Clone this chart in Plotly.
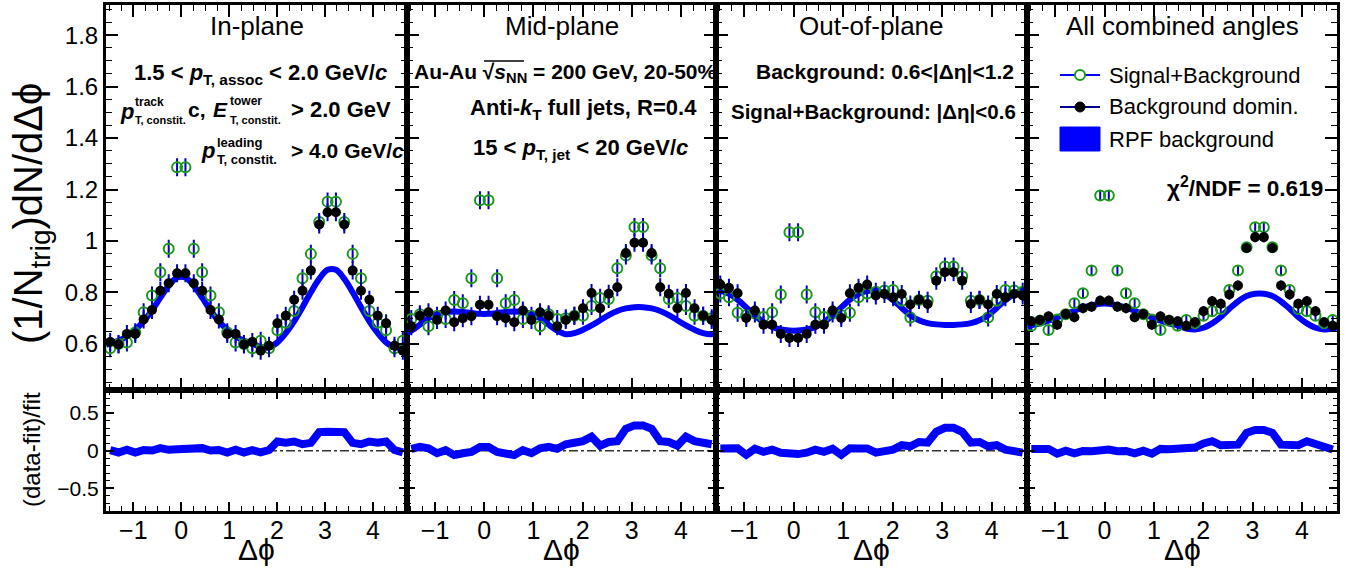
import numpy as np
import plotly.graph_objects as go

W, H = 1354, 569

# ---------------- data ----------------
NBINS = 36
phi_lo, phi_hi = -np.pi / 2, 3 * np.pi / 2
phi = phi_lo + (np.arange(NBINS) + 0.5) * (phi_hi - phi_lo) / NBINS

panel_titles = ["In-plane", "Mid-plane", "Out-of-plane", "All combined angles"]

# Signal+Background (|Δη|<0.6), green open circles
sigbkg_in = [0.583, 0.600, 0.606, 0.645, 0.723, 0.788, 0.879, 0.970, 1.287, 1.287, 0.970, 0.879, 0.788, 0.723, 0.645, 0.606, 0.600, 0.583,
             0.612, 0.583, 0.653, 0.682, 0.728, 0.855, 0.950, 1.074, 1.153, 1.153, 1.074, 0.950, 0.855, 0.728, 0.682, 0.653, 0.583, 0.612]
sigbkg_mid = [0.697, 0.715, 0.669, 0.710, 0.697, 0.771, 0.758, 0.855, 1.158, 1.158, 0.855, 0.758, 0.771, 0.697, 0.710, 0.669, 0.715, 0.697,
              0.700, 0.710, 0.710, 0.747, 0.779, 0.775, 0.894, 0.944, 1.054, 1.054, 0.944, 0.894, 0.775, 0.779, 0.747, 0.710, 0.710, 0.700]
sigbkg_out = [0.796, 0.781, 0.721, 0.712, 0.718, 0.705, 0.723, 0.792, 1.034, 1.034, 0.792, 0.723, 0.705, 0.718, 0.712, 0.721, 0.781, 0.796,
              0.803, 0.808, 0.810, 0.768, 0.703, 0.771, 0.768, 0.863, 0.901, 0.901, 0.863, 0.768, 0.771, 0.703, 0.768, 0.810, 0.808, 0.803]
sigbkg_all = [0.671, 0.690, 0.654, 0.695, 0.715, 0.758, 0.797, 0.885, 1.177, 1.177, 0.885, 0.797, 0.758, 0.715, 0.695, 0.654, 0.690, 0.671,
              0.693, 0.680, 0.710, 0.727, 0.736, 0.810, 0.885, 0.976, 1.053, 1.053, 0.976, 0.885, 0.810, 0.736, 0.727, 0.710, 0.680, 0.693]

# Background dominated (0.6<|Δη|<1.2), black filled circles
bkgdom_in = [0.608, 0.598, 0.639, 0.639, 0.695, 0.732, 0.807, 0.836, 0.875, 0.875, 0.836, 0.807, 0.732, 0.695, 0.639, 0.639, 0.598, 0.608,
             0.574, 0.593, 0.680, 0.710, 0.772, 0.807, 0.885, 1.064, 1.112, 1.112, 1.064, 0.885, 0.807, 0.772, 0.710, 0.680, 0.593, 0.574]
bkgdom_mid = [0.669, 0.710, 0.723, 0.693, 0.730, 0.684, 0.700, 0.708, 0.752, 0.752, 0.708, 0.700, 0.684, 0.730, 0.693, 0.723, 0.710, 0.669,
              0.693, 0.710, 0.739, 0.798, 0.739, 0.795, 0.820, 0.953, 0.993, 0.993, 0.953, 0.820, 0.795, 0.739, 0.798, 0.739, 0.710, 0.693]
bkgdom_out = [0.831, 0.818, 0.797, 0.701, 0.730, 0.675, 0.675, 0.639, 0.623, 0.623, 0.639, 0.675, 0.675, 0.730, 0.701, 0.797, 0.818, 0.831,
              0.788, 0.794, 0.781, 0.794, 0.753, 0.772, 0.755, 0.846, 0.879, 0.879, 0.846, 0.755, 0.772, 0.753, 0.794, 0.781, 0.794, 0.788]
bkgdom_all = [0.688, 0.693, 0.707, 0.675, 0.716, 0.704, 0.739, 0.745, 0.768, 0.768, 0.745, 0.739, 0.704, 0.716, 0.675, 0.707, 0.693, 0.688,
              0.671, 0.684, 0.727, 0.766, 0.756, 0.792, 0.827, 0.973, 1.015, 1.015, 0.973, 0.827, 0.792, 0.756, 0.766, 0.727, 0.684, 0.671]

# RPF background fit, read at the bin centres, plus its value at the range edges
rpf_in = [0.603, 0.612, 0.630, 0.655, 0.688, 0.730, 0.780, 0.826, 0.858, 0.858, 0.826, 0.780, 0.730, 0.688, 0.655, 0.630, 0.612, 0.603,
          0.587, 0.587, 0.606, 0.642, 0.688, 0.743, 0.801, 0.853, 0.888, 0.888, 0.853, 0.801, 0.743, 0.688, 0.642, 0.606, 0.587, 0.587]
rpf_mid = [0.652, 0.675, 0.700, 0.716, 0.724, 0.726, 0.724, 0.720, 0.717, 0.717, 0.720, 0.724, 0.726, 0.724, 0.716, 0.700, 0.675, 0.652,
           0.638, 0.642, 0.655, 0.672, 0.692, 0.712, 0.728, 0.738, 0.743, 0.743, 0.738, 0.728, 0.712, 0.692, 0.672, 0.655, 0.642, 0.638]
rpf_out = [0.806, 0.795, 0.772, 0.742, 0.711, 0.685, 0.666, 0.656, 0.652, 0.652, 0.656, 0.666, 0.685, 0.711, 0.742, 0.772, 0.795, 0.806,
           0.808, 0.795, 0.770, 0.740, 0.711, 0.692, 0.681, 0.676, 0.674, 0.674, 0.676, 0.681, 0.692, 0.711, 0.740, 0.770, 0.795, 0.808]
rpf_all = [0.672, 0.680, 0.690, 0.703, 0.716, 0.729, 0.741, 0.750, 0.756, 0.756, 0.750, 0.741, 0.729, 0.716, 0.703, 0.690, 0.680, 0.672,
           0.660, 0.656, 0.663, 0.680, 0.705, 0.737, 0.765, 0.786, 0.795, 0.795, 0.786, 0.765, 0.737, 0.705, 0.680, 0.663, 0.656, 0.660]
rpf_edge = [0.595, 0.644, 0.812, 0.665]

# statistical uncertainty (approx.) per panel
stat_err = [0.035, 0.035, 0.035, 0.02]

sigbkg = [sigbkg_in, sigbkg_mid, sigbkg_out, sigbkg_all]
bkgdom = [bkgdom_in, bkgdom_mid, bkgdom_out, bkgdom_all]
rpf = [rpf_in, rpf_mid, rpf_out, rpf_all]

legend_names = ["Signal+Background", "Background domin.", "RPF background"]

# ---------------- style ----------------
GREEN = "#1a9a1a"
BLUE = "#0000ff"
NAVY = "#00008b"
ERRC = "#0000c0"
FONT = "Liberation Sans, Arial, Helvetica, sans-serif"

panel_px = [(106, 407), (407, 716), (716, 1027), (1027, 1337)]
top_py = (5, 389.5)
bot_py = (389.5, 511)


def fx(x):
    return x / W


def fy(y):
    return 1 - y / H


fig = go.Figure()
layout = dict(
    width=W, height=H, margin=dict(l=0, r=0, t=0, b=0, autoexpand=False),
    paper_bgcolor="white", plot_bgcolor="white",
    font=dict(family=FONT, color="black"),
    showlegend=False,
)

common_axis = dict(showline=True, linewidth=3, linecolor="black", mirror="allticks",
                   showgrid=False, zeroline=False, ticks="inside", tickcolor="black",
                   tickwidth=1.5)

for k in range(4):
    xa_top, ya_top = 2 * k + 1, 2 * k + 1
    xa_bot, ya_bot = 2 * k + 2, 2 * k + 2
    x0, x1 = panel_px[k]
    dom_x = [fx(x0), fx(x1)]
    layout[f"xaxis{xa_top}"] = dict(common_axis, domain=dom_x, range=[phi_lo, phi_hi], anchor=f"y{ya_top}",
                                    dtick=1, tick0=0, ticklen=12, showticklabels=False,
                                    minor=dict(dtick=0.25, tick0=0, ticks="inside", ticklen=6, tickcolor="black", tickwidth=1))
    layout[f"yaxis{ya_top}"] = dict(common_axis, domain=[fy(top_py[1]), fy(top_py[0])], range=[0.423, 1.917],
                                    anchor=f"x{xa_top}", dtick=0.2, tick0=0, ticklen=12,
                                    showticklabels=(k == 0), tickfont=dict(size=24, family=FONT),
                                    minor=dict(dtick=0.05, tick0=0, ticks="inside", ticklen=6, tickcolor="black", tickwidth=1))
    layout[f"xaxis{xa_bot}"] = dict(common_axis, domain=dom_x, range=[phi_lo, phi_hi], anchor=f"y{ya_bot}",
                                    dtick=1, tick0=0, ticklen=9, showticklabels=True, ticklabelstandoff=-5,
                                    tickfont=dict(size=25, family=FONT),
                                    minor=dict(dtick=0.25, tick0=0, ticks="inside", ticklen=5, tickcolor="black", tickwidth=1))
    layout[f"yaxis{ya_bot}"] = dict(common_axis, domain=[fy(bot_py[1]), fy(bot_py[0])], range=[-0.8, 0.813],
                                    anchor=f"x{xa_bot}", dtick=0.5, tick0=0, ticklen=8,
                                    showticklabels=(k == 0), tickfont=dict(size=21, family=FONT),
                                    minor=dict(dtick=0.1, tick0=0, ticks="inside", ticklen=4, tickcolor="black", tickwidth=1))

    xt, yt = ("x" if xa_top == 1 else f"x{xa_top}"), ("y" if ya_top == 1 else f"y{ya_top}")
    xb, yb = f"x{xa_bot}", f"y{ya_bot}"

    # RPF background fit band
    fit_x = [phi_lo] + list(phi) + [phi_hi]
    fit_y = [rpf_edge[k]] + rpf[k] + [rpf_edge[k]]
    fig.add_trace(go.Scatter(x=fit_x, y=fit_y, mode="lines", xaxis=xt, yaxis=yt, name=legend_names[2],
                             line=dict(color=BLUE, width=6, shape="spline", smoothing=1.0), hoverinfo="skip"))
    # signal + background
    fig.add_trace(go.Scatter(x=phi, y=sigbkg[k], mode="markers", xaxis=xt, yaxis=yt, name=legend_names[0],
                             marker=dict(symbol="circle-open", size=10, color=GREEN, line=dict(width=2, color=GREEN)),
                             error_y=dict(type="constant", value=stat_err[k], color=ERRC, thickness=2, width=0)))
    # background dominated
    fig.add_trace(go.Scatter(x=phi, y=bkgdom[k], mode="markers", xaxis=xt, yaxis=yt, name=legend_names[1],
                             marker=dict(symbol="circle", size=10, color="black"),
                             error_y=dict(type="constant", value=stat_err[k], color=ERRC, thickness=2, width=0)))

    # residual (data-fit)/fit
    resid = (np.array(bkgdom[k]) - np.array(rpf[k])) / np.array(rpf[k])
    fig.add_trace(go.Scatter(x=[phi_lo, phi_hi], y=[0, 0], mode="lines", xaxis=xb, yaxis=yb,
                             line=dict(color="#333333", width=1.5, dash="dashdot"), hoverinfo="skip"))
    fig.add_trace(go.Scatter(x=phi, y=resid, mode="lines", xaxis=xb, yaxis=yb, name="(data-fit)/fit",
                             line=dict(color=BLUE, width=8), hoverinfo="skip"))

ann = []


def add_text(text, x, y, size, xanchor="center", yanchor="middle", angle=0, color="black"):
    ann.append(dict(text=text, x=fx(x), y=fy(y), xref="paper", yref="paper", xanchor=xanchor, yanchor=yanchor,
                    showarrow=False, textangle=angle, font=dict(size=size, family=FONT, color=color)))


# panel titles and x titles
for k in range(4):
    cx = (panel_px[k][0] + panel_px[k][1]) / 2
    add_text(panel_titles[k], cx, 26, 26)
    add_text("Δϕ", cx, 568, 30, yanchor="bottom")

# axis titles
add_text("(1/N<sub>trig</sub>)dN/dΔϕ", 31, 214, 40, angle=-90)
add_text("(data-fit)/fit", 31, 449, 24, angle=-90)

# panel 1 texts
add_text("<b>1.5 &lt; <i>p</i><sub>T, assoc</sub> &lt; 2.0 GeV/<i>c</i></b>", 260, 74, 22)
add_text("<b><i>p</i></b>", 118, 111, 22, xanchor="left")
add_text("<b>track</b>", 133, 102, 12, xanchor="left")
add_text("<b>T, constit.</b>", 133, 120, 11, xanchor="left")
add_text("<b>c,</b>", 186, 110, 21, xanchor="left")
add_text("<b><i>E</i></b>", 211, 110, 21, xanchor="left")
add_text("<b>tower</b>", 228, 101, 12, xanchor="left")
add_text("<b>T, constit.</b>", 228, 120, 11, xanchor="left")
add_text("<b>&gt; 2.0 GeV</b>", 289, 110, 22, xanchor="left")
add_text("<b><i>p</i></b>", 199, 151, 22, xanchor="left")
add_text("<b>leading</b>", 215, 142, 13, xanchor="left")
add_text("<b>T, constit.</b>", 215, 160, 13, xanchor="left")
add_text("<b>&gt; 4.0 GeV/<i>c</i></b>", 289, 151, 21, xanchor="left")

# panel 2 texts
add_text("<b>Au-Au √<i>s</i><sub>NN</sub> = 200 GeV, 20-50%</b>", 565, 73, 21)
add_text("<b>Anti-<i>k</i><sub>T</sub> full jets, R=0.4</b>", 583, 109, 22)
add_text("<b>15 &lt; <i>p</i><sub>T, jet</sub> &lt; 20 GeV/<i>c</i></b>", 580, 149, 22)

# panel 3 texts
add_text("<b>Background: 0.6&lt;|Δη|&lt;1.2</b>", 1016, 72, 21, xanchor="right")
add_text("<b>Signal+Background: |Δη|&lt;0.6</b>", 1018, 111, 20.5, xanchor="right")

# panel 4 text
add_text("<b>χ<sup>2</sup>/NDF = 0.619</b>", 1325, 187, 22.5, xanchor="right")

# legend (drawn as a key box in panel 4)
shapes = []
leg_y = [75, 107, 139]
for i, name in enumerate(legend_names):
    add_text(name, 1107, leg_y[i], 22, xanchor="left")
shapes.append(dict(type="line", xref="paper", yref="paper", x0=fx(1060), x1=fx(1100), y0=fy(leg_y[0]), y1=fy(leg_y[0]),
                   line=dict(color=BLUE, width=2)))
shapes.append(dict(type="circle", xref="paper", yref="paper", x0=fx(1075), x1=fx(1085), y0=fy(leg_y[0] + 5),
                   y1=fy(leg_y[0] - 5), line=dict(color=GREEN, width=2), fillcolor="white"))
shapes.append(dict(type="line", xref="paper", yref="paper", x0=fx(1060), x1=fx(1100), y0=fy(leg_y[1]), y1=fy(leg_y[1]),
                   line=dict(color=NAVY, width=2)))
shapes.append(dict(type="circle", xref="paper", yref="paper", x0=fx(1075), x1=fx(1085), y0=fy(leg_y[1] + 5),
                   y1=fy(leg_y[1] - 5), line=dict(color="black", width=1), fillcolor="black"))
shapes.append(dict(type="rect", xref="paper", yref="paper", x0=fx(1060), x1=fx(1100), y0=fy(leg_y[2] + 12),
                   y1=fy(leg_y[2] - 12), line=dict(color=BLUE, width=1), fillcolor=BLUE))
# radical overline for sqrt(s_NN)
shapes.append(dict(type="line", xref="paper", yref="paper", x0=fx(484), x1=fx(524), y0=fy(61), y1=fy(61),
                   line=dict(color="black", width=1.5)))

layout["annotations"] = ann
layout["shapes"] = shapes
fig.update_layout(**layout)
fig.write_html("out.html", config={"displayModeBar": False},
               post_script="document.body.style.margin='0px';document.body.style.padding='0px';")
